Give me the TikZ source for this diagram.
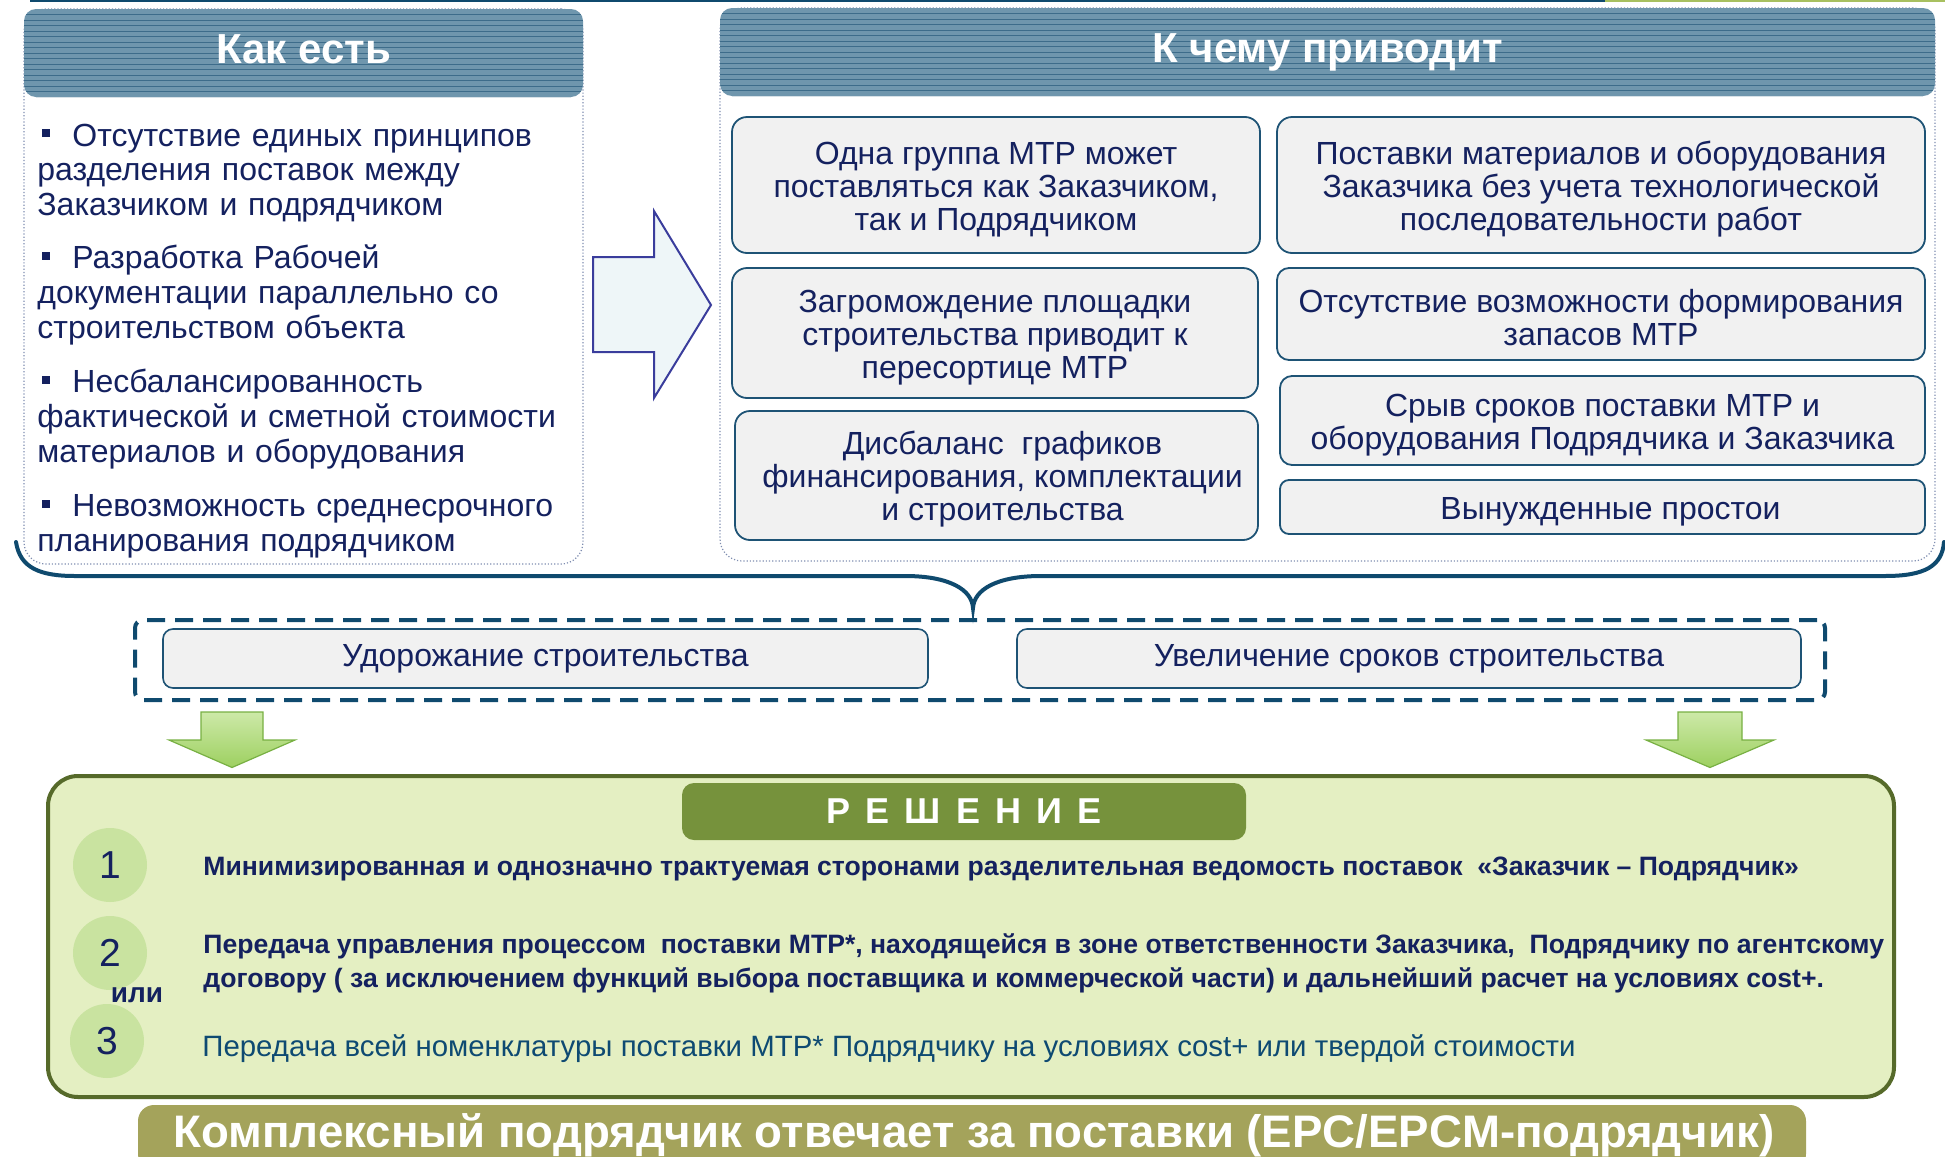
\documentclass[tikz,border=0pt]{standalone}
\usepackage{fontspec}
\setmainfont{Liberation Sans}
\usetikzlibrary{shapes.geometric}
\definecolor{navy}{HTML}{14215F}
\definecolor{headfill}{HTML}{6F96AD}
\definecolor{headline}{HTML}{3D6C8A}
\definecolor{boxgrey}{HTML}{F1F1F1}
\definecolor{boxedge}{HTML}{1E5375}
\definecolor{dotedge}{HTML}{7F8DB0}
\definecolor{bracec}{HTML}{0F4A6E}
\definecolor{arrowedge}{HTML}{3A3D9C}
\definecolor{arrowfill}{HTML}{EEF6F8}
\definecolor{solfill}{HTML}{E4EFC2}
\definecolor{soledge}{HTML}{566A2A}
\definecolor{solhead}{HTML}{76923C}
\definecolor{circfill}{HTML}{C9E3A0}
\definecolor{bannerc}{HTML}{A4A35B}
\definecolor{greentop}{HTML}{CDE9A8}
\definecolor{greenbot}{HTML}{9DD060}
\definecolor{greenedge}{HTML}{78B043}
\definecolor{itemthree}{HTML}{0E4A72}
\definecolor{topgreen}{HTML}{A8C060}
\newcommand\mybul{\hspace*{2.5pt}\rule[4.5pt]{4pt}{4pt}\hspace*{11pt}}
\newcommand\rsp{\hspace{7.5pt}}
\newcommand\tstrut{\rule{0pt}{15.5pt}}
\begin{document}
\begin{tikzpicture}[x=0.5pt,y=-0.5pt,
  panel/.style={draw=dotedge, densely dotted, line width=0.6pt, rounded corners=11pt, inner sep=0pt},
  header/.style={fill=headfill, rounded corners=6pt, inner sep=0pt, text=white,
    font=\bfseries\fontsize{21}{24}\selectfont, text height=15.1pt, text depth=4.4pt,
    path picture={\foreach \k in {1,...,16}{\draw[headline, line width=0.45pt]
      ([yshift=-\k*2.75pt]path picture bounding box.north west) --
      ([yshift=-\k*2.75pt]path picture bounding box.north east);}}},
  rbox/.style={draw=boxedge, line width=0.9pt, fill=boxgrey, inner sep=0pt, align=center,
    text=navy, font=\fontsize{16}{16.5}\selectfont},
  sbox/.style={draw=boxedge, line width=0.8pt, fill=boxgrey, inner sep=0pt, rounded corners=5pt,
    text=navy, font=\fontsize{16}{18}\selectfont},
  bul/.style={anchor=base west, inner sep=0pt, text=navy, text width=275pt, align=left,
    font=\fontsize{16}{17.35}\selectfont},
  rarrow/.style={draw=arrowedge, line width=1pt, fill=arrowfill, line join=miter},
  garrow/.style={draw=greenedge, line width=0.6pt, top color=greentop, bottom color=greenbot},
  brace/.style={draw=bracec, line width=2pt, line cap=round},
  numc/.style={circle, fill=circfill, minimum size=37pt, inner sep=0pt, text=navy,
    font=\fontsize{19.5}{20}\selectfont},
  item/.style={anchor=base west, inner sep=0pt, text=navy, font=\bfseries\fontsize{13.3}{17}\selectfont}
]
\useasboundingbox (0,0) rectangle (1945,1157);

% top rule
\draw[line width=1.2pt, draw=bracec] (30,1) -- (1605,1);
\draw[line width=1.2pt, draw=topgreen] (1605,1) -- (1945,1);

% panels
\node[panel, minimum width=279.5pt, minimum height=277.5pt] (leftpanel) at (303.5,286.5) {};
\node[panel, minimum width=607.5pt, minimum height=276.5pt] (rightpanel) at (1327.5,284.5) {};
\node[header, minimum width=279.5pt, minimum height=44pt] (lefthead) at (303.5,53) {Как есть};
\node[header, minimum width=607.5pt, minimum height=44pt] (righthead) at (1327.5,52) {К чему приводит};

% left bullets
\node[bul] (p1) at (37,146) {\mybul Отсутствие единых принципов\\разделения поставок между\\Заказчиком и подрядчиком};
\node[bul] (p2) at (37,268.8) {\mybul Разработка Рабочей\\документации параллельно со\\строительством объекта};
\node[bul] (p3) at (37,392.8) {\mybul Несбалансированность\\фактической и сметной стоимости\\материалов и оборудования};
\node[bul] (p4) at (37,516.8) {\mybul Невозможность среднесрочного\\планирования подрядчиком};

% right arrow
\draw[rarrow] (593,257) -- (654,257) -- (654,211) -- (711,305) -- (654,398) -- (654,352) -- (593,352) -- cycle;

% consequence boxes
\node[rbox, rounded corners=7.5pt, minimum width=264pt, minimum height=68pt] (ba) at (996,185)
  {\tstrut Одна группа МТР может\\поставляться как Заказчиком,\\так и Подрядчиком};
\node[rbox, rounded corners=7.5pt, minimum width=324pt, minimum height=68pt] (bb) at (1601,185)
  {\tstrut Поставки материалов и оборудования\\Заказчика без учета технологической\\последовательности работ};
\node[rbox, rounded corners=7.5pt, minimum width=263pt, minimum height=65pt] (bc) at (995,333)
  {\tstrut Загромождение площадки\\строительства приводит к\\пересортице МТР};
\node[rbox, rounded corners=7.5pt, minimum width=261.5pt, minimum height=64.5pt] (bg) at (996.5,475.5)
  {\tstrut\hspace*{6pt}Дисбаланс\ \ графиков\\\hspace*{6pt}финансирования, комплектации\\\hspace*{6pt}и строительства};
\node[rbox, rounded corners=6pt, minimum width=324pt, minimum height=46pt] (bd) at (1601,314)
  {\tstrut Отсутствие возможности формирования\\запасов МТР};
\node[rbox, rounded corners=6pt, minimum width=322.5pt, minimum height=44.5pt] (be) at (1602.5,420.5)
  {\tstrut Срыв сроков поставки МТР и\\оборудования Подрядчика и Заказчика};
\node[rbox, rounded corners=4.5pt, minimum width=322.5pt, minimum height=27pt] (bf) at (1602.5,507)
  {\tstrut\hspace*{8pt}Вынужденные простои};

% brace
\draw[brace] (16,542) .. controls (20,568) and (40,576) .. (75,576) -- (905,576)
  .. controls (950,576) and (972,590) .. (973,608)
  .. controls (974,590) and (996,576) .. (1041,576) -- (1885,576)
  .. controls (1925,576) and (1942,566) .. (1944,542);

% dashed result box
\node[draw=bracec, line width=2pt, dash pattern=on 9pt off 5pt, rounded corners=4pt,
  minimum width=845pt, minimum height=40pt, inner sep=0pt] (dbox) at (980,660) {};
\node[sbox, minimum width=382.5pt, minimum height=29.5pt] (cost) at (545.5,658.5) {Удорожание строительства};
\node[sbox, minimum width=392pt, minimum height=29.5pt] (time) at (1409,658.5) {Увеличение сроков строительства};

% green arrows
\draw[garrow] (201,712) -- (263,712) -- (263,740) -- (295,740) -- (232,767.5) -- (169,740) -- (201,740) -- cycle;
\draw[garrow] (1678,712) -- (1742,712) -- (1742,740) -- (1774,740) -- (1710,767.5) -- (1646,740) -- (1678,740) -- cycle;

% solution box
\node[draw=soledge, line width=2pt, fill=solfill, rounded corners=15pt,
  minimum width=923pt, minimum height=160.5pt, inner sep=0pt] (sol) at (971,936.5) {};
\node[fill=solhead, rounded corners=6pt, minimum width=282pt, minimum height=28.5pt, inner sep=0pt,
  text=white, font=\bfseries\fontsize{18}{20}\selectfont] (solhead) at (964,811.5)
  {Р\rsp Е\rsp Ш\rsp Е\rsp Н\rsp И\rsp Е};

\node[numc] (c1) at (110,865) {1};
\node[numc] (c2) at (110,953) {2};
\node[numc] (c3) at (107,1041) {3};
\node[text=navy, inner sep=0pt, font=\bfseries\fontsize{14}{16}\selectfont] (ili) at (137,995) {или};

\node[item] (s1) at (203,875) {Минимизированная и однозначно трактуемая сторонами разделительная ведомость поставок\ \ «Заказчик – Подрядчик»};
\node[item] (s2a) at (203,953) {Передача управления процессом\ \ поставки МТР*, находящейся в зоне ответственности Заказчика,\ \ Подрядчику по агентскому};
\node[item] (s2b) at (203,987) {договору ( за исключением функций выбора поставщика и коммерческой части) и дальнейший расчет на условиях cost+.};
\node[anchor=base west, inner sep=0pt, text=itemthree, font=\fontsize{14.7}{17}\selectfont] (s3) at (202,1056)
  {Передача всей номенклатуры поставки МТР* Подрядчику на условиях cost+ или твердой стоимости};

% bottom banner
\node[fill=bannerc, rounded corners=8pt, minimum width=834pt, minimum height=32.5pt, inner sep=0pt] (bannerbox) at (972,1137.5) {};
\node[anchor=base, inner sep=0pt, text=white, font=\bfseries\fontsize{22.8}{26}\selectfont] (bannertext) at (974,1147)
  {Комплексный подрядчик отвечает за поставки (EPC/EPCM-подрядчик)};
\end{tikzpicture}
\end{document}
